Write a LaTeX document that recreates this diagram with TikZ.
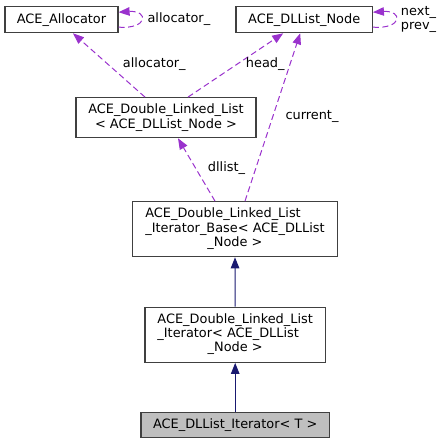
\documentclass[tikz,border=0pt]{standalone}
\usepackage{fontspec}
\setmainfont{DejaVu Sans}
\usepackage{tikz}
\usetikzlibrary{arrows.meta}
\definecolor{usePurple}{RGB}{154,50,205}
\definecolor{baseNavy}{RGB}{25,25,112}
\definecolor{boxGray}{RGB}{64,64,64}
\definecolor{boxFill}{RGB}{191,191,191}
\newcommand{\classLines}[3]{\begin{tabular}{@{}l@{}}#1\\#2\\\multicolumn{1}{@{}c@{}}{#3}\end{tabular}}

\begin{document}
\begin{tikzpicture}[x=1pt, y=-1pt]%
  \tikzset{uses arrow/.style={draw, usePurple, line width=1pt, dash pattern=on 6pt off 3.5pt, -{Triangle[length=11pt,width=8.5pt]}}}
  \tikzset{base arrow/.style={draw, baseNavy, line width=1pt, -{Triangle[length=11pt,width=8.5pt]}}}
  \tikzset{class/.style={draw=boxGray, line width=1.2pt, fill=white, inner sep=0pt, align=center}}
  \tikzstyle{every node}=[text=black, font=\fontsize{12.9}{14.3}\selectfont]

  \useasboundingbox (0,0) rectangle (443,444);

  \node[class, minimum width=113pt, minimum height=26pt] at (61.5,19.7) (Alloc) {ACE\_Allocator};
  \node[class, minimum width=136.3pt, minimum height=26pt] at (304.2,19.7) (DLNode) {ACE\_DLList\_Node};
  \node[class, minimum width=180pt, minimum height=40pt] at (166,117.7) (DLL) {ACE\_Double\_Linked\_List\\< ACE\_DLList\_Node >};
  \node[class, minimum width=204.6pt, minimum height=55pt] at (235,229.2) (ItBase) {\classLines{ACE\_Double\_Linked\_List}{\_Iterator\_Base< ACE\_DLList}{\_Node >}};
  \node[class, minimum width=180.3pt, minimum height=55pt] at (235.2,334.8) (It) {\classLines{ACE\_Double\_Linked\_List}{\_Iterator< ACE\_DLList}{\_Node >}};
  \node[class, fill=boxFill, minimum width=188.3pt, minimum height=25pt] at (235.2,425.2) (DLIt) {ACE\_DLList\_Iterator< T >};

  % self references
  \path[uses arrow] ([yshift=-7.5pt]Alloc.east) .. controls +(30pt,-2pt) and +(30pt,2pt) .. ([yshift=7.5pt]Alloc.east);
  \node[anchor=west] at (144,19.5) (lAllocSelf) {allocator\_};
  \path[uses arrow] ([yshift=-7.5pt]DLNode.east) .. controls +(30pt,-2pt) and +(30pt,2pt) .. ([yshift=7.5pt]DLNode.east);
  \node[align=center] at (418.5,19.2) (lNextPrev) {next\_\\prev\_};

  % members
  \path[uses arrow] ([xshift=-21pt]DLL.north) -- ([xshift=11.5pt]Alloc.south);
  \node at (154.3,64.3) (lAlloc) {allocator\_};
  \path[uses arrow] ([xshift=22pt]DLL.north) -- ([xshift=-21pt]DLNode.south);
  \node at (265.3,64.3) (lHead) {head\_};
  \path[uses arrow] ([xshift=10pt]ItBase.north) -- ([xshift=-4pt]DLNode.south);
  \node at (312,116) (lCurrent) {current\_};
  \path[uses arrow] ([xshift=-20pt]ItBase.north) -- ([xshift=12pt]DLL.south);
  \node at (226.5,168.5) (lDllist) {dllist\_};

  % inheritance
  \path[base arrow] (It.north) -- (ItBase.south);
  \path[base arrow] (DLIt.north) -- (It.north |- It.south);
\end{tikzpicture}
\end{document}
